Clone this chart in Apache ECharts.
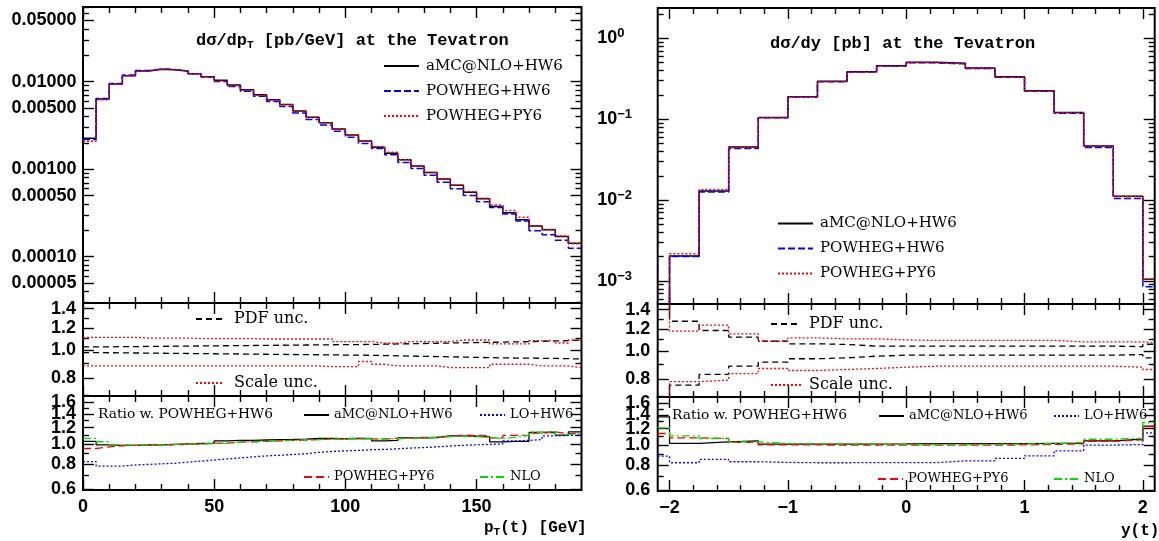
<!DOCTYPE html>
<html><head><meta charset="utf-8">
<script src="https://cdn.jsdelivr.net/npm/echarts@6/dist/echarts.min.js"></script>
<style>html,body{margin:0;padding:0;background:#fff}#c{width:1159px;height:541px}</style>
</head><body><div id="c"></div><script>
// ---------------- DATA ----------------
const ptEdges = [0,5,10,15,20,25,30,35,40,45,50,55,60,65,70,75,80,85,90,95,100,105,110,115,120,125,130,135,140,145,150,155,160,165,170,175,180,185,190];
const ptAmc = [2.26e-3,6.35e-3,9.41e-3,1.171e-2,1.325e-2,1.385e-2,1.371e-2,1.325e-2,1.234e-2,1.14e-2,1.037e-2,9.17e-3,8.1e-3,7.11e-3,6.23e-3,5.49e-3,4.63e-3,3.93e-3,3.40e-3,2.88e-3,2.46e-3,2.10e-3,1.78e-3,1.52e-3,1.28e-3,1.09e-3,9.15e-4,7.75e-4,6.56e-4,5.46e-4,4.61e-4,3.74e-4,3.17e-4,2.64e-4,2.25e-4,2.03e-4,1.70e-4,1.43e-4];
const ptPowHw = [2.19e-3,6.41e-3,9.55e-3,1.189e-2,1.338e-2,1.399e-2,1.378e-2,1.325e-2,1.228e-2,1.129e-2,1.002e-2,8.82e-3,7.79e-3,6.80e-3,5.93e-3,5.22e-3,4.39e-3,3.70e-3,3.20e-3,2.72e-3,2.31e-3,1.97e-3,1.72e-3,1.46e-3,1.195e-3,1.018e-3,8.51e-4,7.08e-4,5.99e-4,5.01e-4,4.26e-4,3.65e-4,3.08e-4,2.56e-4,1.98e-4,1.78e-4,1.54e-4,1.25e-4];
const ptPowPy = [2.08e-3,6.22e-3,9.36e-3,1.171e-2,1.318e-2,1.385e-2,1.364e-2,1.318e-2,1.228e-2,1.134e-2,1.012e-2,9.00e-3,7.98e-3,7.01e-3,6.17e-3,5.45e-3,4.61e-3,3.90e-3,3.39e-3,2.88e-3,2.46e-3,2.09e-3,1.82e-3,1.56e-3,1.279e-3,1.094e-3,9.19e-4,7.71e-4,6.61e-4,5.51e-4,4.66e-4,3.91e-4,3.38e-4,2.83e-4,2.24e-4,2.04e-4,1.73e-4,1.41e-4];
const ptPdfUp = [1.029,1.030,1.031,1.032,1.033,1.034,1.035,1.036,1.037,1.038,1.039,1.040,1.041,1.042,1.043,1.044,1.045,1.046,1.047,1.048,1.049,1.050,1.052,1.054,1.056,1.058,1.060,1.062,1.064,1.066,1.068,1.070,1.072,1.074,1.077,1.080,1.083,1.086];
const ptPdfDn = [0.983,0.982,0.981,0.980,0.979,0.978,0.977,0.976,0.975,0.974,0.973,0.972,0.971,0.970,0.969,0.968,0.967,0.966,0.965,0.964,0.963,0.962,0.960,0.958,0.956,0.954,0.952,0.950,0.948,0.946,0.944,0.942,0.941,0.940,0.939,0.938,0.936,0.934];
const ptScaleUp = [1.112,1.112,1.112,1.112,1.105,1.105,1.105,1.105,1.10,1.10,1.10,1.10,1.10,1.097,1.097,1.097,1.097,1.097,1.097,1.074,1.074,1.074,1.06,1.06,1.074,1.074,1.074,1.074,1.088,1.088,1.088,1.054,1.054,1.054,1.082,1.082,1.062,1.088];
const ptScaleDn = [0.883,0.883,0.883,0.883,0.883,0.883,0.883,0.883,0.883,0.883,0.883,0.883,0.883,0.883,0.883,0.883,0.883,0.883,0.878,0.878,0.878,0.915,0.895,0.883,0.883,0.883,0.883,0.871,0.871,0.871,0.871,0.895,0.895,0.895,0.883,0.883,0.883,0.871];
const ptRatioAmc = [1.03,0.99,0.985,0.985,0.99,0.99,0.995,1.0,1.005,1.01,1.035,1.04,1.04,1.045,1.05,1.052,1.055,1.063,1.063,1.06,1.063,1.065,1.035,1.04,1.071,1.071,1.075,1.095,1.095,1.09,1.083,1.024,1.03,1.03,1.137,1.14,1.103,1.145];
const ptRatioPy = [0.95,0.968,0.98,0.985,0.985,0.99,0.99,0.995,1.0,1.005,1.01,1.02,1.025,1.03,1.035,1.04,1.045,1.05,1.055,1.06,1.065,1.06,1.058,1.065,1.07,1.075,1.08,1.09,1.103,1.1,1.095,1.07,1.1,1.103,1.13,1.145,1.12,1.13];
const ptRatioLo = [0.82,0.78,0.78,0.79,0.795,0.80,0.805,0.815,0.825,0.835,0.845,0.855,0.865,0.875,0.88,0.889,0.895,0.91,0.92,0.925,0.93,0.937,0.94,0.947,0.955,0.96,0.968,0.977,0.985,0.99,0.995,1.0,1.035,1.04,1.05,1.095,1.1,1.103];
const ptRatioNlo = [1.065,1.025,0.99,0.985,0.99,0.99,0.995,1.0,1.0,1.005,1.01,1.02,1.025,1.03,1.035,1.04,1.045,1.05,1.055,1.06,1.06,1.06,1.055,1.06,1.065,1.07,1.075,1.085,1.09,1.085,1.08,1.06,1.08,1.1,1.14,1.145,1.11,1.125];

const yEdges = [-2.1,-2,-1.75,-1.5,-1.25,-1,-0.75,-0.5,-0.25,0,0.25,0.5,0.75,1,1.25,1.5,1.75,2,2.1];
const yAmc = [1e-4,2.04e-3,1.30e-2,4.55e-2,0.105,0.19,0.294,0.387,0.459,0.506,0.491,0.43,0.336,0.225,0.121,0.0468,0.0112,1.05e-3];
const yPowHw = [1e-4,2.01e-3,1.256e-2,4.35e-2,0.104,0.188,0.291,0.383,0.4535,0.4985,0.4837,0.4236,0.331,0.2212,0.1186,0.0447,0.0105,8.5e-4];
const yPowPy = [1e-4,2.18e-3,1.35e-2,4.47e-2,0.104,0.188,0.29,0.382,0.4526,0.4975,0.4827,0.4228,0.331,0.2223,0.120,0.0465,0.0111,1.05e-3];
const yPdfUp = [2.0,1.276,1.184,1.122,1.086,1.064,1.058,1.044,1.044,1.044,1.044,1.044,1.044,1.044,1.044,1.044,1.04,1.06];
const yPdfDn = [0.5,0.762,0.831,0.888,0.918,0.943,0.95,0.963,0.971,0.971,0.971,0.971,0.971,0.971,0.971,0.971,0.975,0.95];
const yScaleUp = [2.0,1.178,1.236,1.153,1.086,1.116,1.107,1.107,1.098,1.093,1.093,1.093,1.093,1.093,1.081,1.081,1.081,1.07];
const yScaleDn = [0.5,0.784,0.794,0.836,0.872,0.858,0.865,0.872,0.881,0.888,0.888,0.888,0.888,0.888,0.888,0.888,0.881,0.865];
const yRatioAmc = [1.37,1.017,1.035,1.047,1.01,1.01,1.01,1.01,1.012,1.015,1.015,1.015,1.015,1.017,1.02,1.047,1.067,1.234];
const yRatioPy = [1.137,1.083,1.075,1.028,1.0,1.0,0.998,0.998,0.998,0.998,0.998,0.998,1.0,1.005,1.012,1.04,1.06,1.23];
const yRatioLo = [0.882,0.819,0.85,0.828,0.822,0.819,0.819,0.82,0.82,0.82,0.837,0.837,0.86,0.885,0.936,0.998,1.005,1.145];
const yRatioNlo = [1.21,1.107,1.075,1.035,1.017,1.012,1.01,1.008,1.005,1.005,1.005,1.007,1.01,1.015,1.03,1.066,1.08,1.286];

// tick values and labels
const ptXTicks = [0,50,100,150];
const ptXLabels = ['0','50','100','150'];
const yXTicks = [-2,-1,0,1,2];
const yXLabels = ['\u22122','\u22121','0','1','2'];
const ptMainTicks = [0.05,0.01,0.005,0.001,0.0005,0.0001,0.00005];
const ptMainLabels = ['0.05000','0.01000','0.00500','0.00100','0.00050','0.00010','0.00005'];
const yMainTicks = [1,0.1,0.01,0.001];
const yMainExp = ['0','\u22121','\u22122','\u22123'];
const midTicks = [0.8,1.0,1.2,1.4];
const midLabels = ['0.8','1.0','1.2','1.4'];
const midMinor = [0.7,0.9,1.1,1.3];
const botTicks = [0.6,0.8,1.0,1.2,1.4,1.6];
const botLabels = ['0.6','0.8','1.0','1.2','1.4','1.6'];
const botMinor = [0.7,0.9,1.1,1.3,1.5];

// ---------------- LAYOUT ----------------
function logMinor(lo, hi, exclude) {
  const out = [];
  for (let e = -6; e <= 1; e++) for (let m = 1; m <= 9; m++) {
    const v = m * Math.pow(10, e);
    if (v > lo && v < hi && !exclude.some(t => Math.abs(t - v) / v < 1e-6)) out.push(v);
  }
  return out;
}
const grids = [
  {left:83, top:7, width:498.5, height:296},
  {left:83, top:303, width:498.5, height:93},
  {left:83, top:396, width:498.5, height:94},
  {left:657.7, top:8, width:497, height:296},
  {left:657.7, top:304, width:497, height:93},
  {left:657.7, top:397, width:497, height:94}
];
const colX = [
  {min:0, max:190, major:ptXTicks, labels:ptXLabels, minor:[10,20,30,40,60,70,80,90,110,120,130,140,160,170,180]},
  {min:-2.1, max:2.1, major:yXTicks, labels:yXLabels, minor:[-1.8,-1.6,-1.4,-1.2,-0.8,-0.6,-0.4,-0.2,0.2,0.4,0.6,0.8,1.2,1.4,1.6,1.8]}
];
const yCfg = [
  {min:2.96e-5, max:0.0713, major:ptMainTicks, labels:ptMainLabels, minor:logMinor(2.96e-5,0.0713,ptMainTicks), margin:6.5},
  {min:0.693, max:1.466, major:midTicks, labels:midLabels, minor:midMinor, margin:7},
  {min:0.5965, max:1.712, major:botTicks, labels:botLabels, minor:botMinor, margin:7},
  {min:5.2e-4, max:2.37, major:yMainTicks, labels:yMainExp, minor:logMinor(5.2e-4,2.37,yMainTicks), margin:60.5, sup:true},
  {min:0.693, max:1.466, major:midTicks, labels:midLabels, minor:midMinor, margin:7.5},
  {min:0.5965, max:1.712, major:botTicks, labels:botLabels, minor:botMinor, margin:7.5}
];
const tickFont = {fontFamily:'Liberation Sans', fontWeight:'bold', fontSize:18, color:'#000'};
const tickLine = {color:'#000', width:1.4};
function nearest(arr, v) { let b = 0; arr.forEach((a,i)=>{ if (Math.abs(a - v) < Math.abs(arr[b] - v)) b = i; }); return b; }
const NY = 7; // y axes per grid

const xAxes = [], yAxes = [];
grids.forEach((gr, g) => {
  const cx = colX[g < 3 ? 0 : 1];
  const showX = (g === 2 || g === 5);
  const bx = {type:'value', gridIndex:g, min:cx.min, max:cx.max, splitLine:{show:false}, axisLine:{show:false, onZero:false}};
  xAxes.push(Object.assign({}, bx, {position:'bottom',
    axisTick:{show:true, inside:true, length:11, customValues:cx.major, lineStyle:tickLine},
    axisLabel:Object.assign({show:showX, customValues:cx.major, margin:8, showMinLabel:true, showMaxLabel:true, hideOverlap:false,
      formatter:v => cx.labels[nearest(cx.major, v)]}, tickFont)}));
  xAxes.push(Object.assign({}, bx, {position:'bottom', axisTick:{show:true, inside:true, length:6, customValues:cx.minor, lineStyle:tickLine}, axisLabel:{show:false}}));
  xAxes.push(Object.assign({}, bx, {position:'top', axisTick:{show:true, inside:true, length:11, customValues:cx.major, lineStyle:tickLine}, axisLabel:{show:false}}));
  xAxes.push(Object.assign({}, bx, {position:'top', axisTick:{show:true, inside:true, length:6, customValues:cx.minor, lineStyle:tickLine}, axisLabel:{show:false}}));

  const c = yCfg[g];
  const lmin = Math.log10(c.min), lmax = Math.log10(c.max);
  const majL = c.major.map(Math.log10), minL = c.minor.map(Math.log10);
  // data axis (log scale)
  yAxes.push({type:'log', logBase:10, gridIndex:g, min:c.min, max:c.max, show:false, axisLine:{onZero:false}});
  const by = {type:'value', gridIndex:g, min:lmin, max:lmax, splitLine:{show:false}, axisLine:{show:false, onZero:false}};
  const noLab = {show:false};
  yAxes.push(Object.assign({}, by, {position:'left', axisTick:{show:true, inside:true, length:11, customValues:majL, lineStyle:tickLine}, axisLabel:noLab}));
  yAxes.push(Object.assign({}, by, {position:'left', axisTick:{show:true, inside:true, length:6, customValues:minL, lineStyle:tickLine}, axisLabel:noLab}));
  yAxes.push(Object.assign({}, by, {position:'right', axisTick:{show:true, inside:true, length:11, customValues:majL, lineStyle:tickLine}, axisLabel:noLab}));
  yAxes.push(Object.assign({}, by, {position:'right', axisTick:{show:true, inside:true, length:6, customValues:minL, lineStyle:tickLine}, axisLabel:noLab}));
  // label axes: alternate labels split over two axes so overlapping neighbours are both kept
  [0, 1].forEach(par => {
    const vals = majL.filter((v, i) => i % 2 === par);
    let lab;
    if (c.sup) {
      lab = {show:true, customValues:vals, margin:c.margin, align:'left', showMinLabel:true, showMaxLabel:true, hideOverlap:false,
        formatter:v => '{b|10}{s|' + c.labels[nearest(majL, v)] + '}',
        rich:{b:Object.assign({lineHeight:22}, tickFont), s:{fontFamily:'Liberation Sans', fontWeight:'bold', fontSize:13, color:'#000', verticalAlign:'top', lineHeight:12}}};
    } else {
      lab = Object.assign({show:true, customValues:vals, margin:c.margin, showMinLabel:true, showMaxLabel:true, hideOverlap:false,
        formatter:v => c.labels[nearest(majL, v)]}, tickFont);
    }
    yAxes.push(Object.assign({}, by, {position:'left', axisTick:{show:false}, axisLabel:lab}));
  });
});

function hist(edges, vals) {
  const pts = vals.map((v, i) => [edges[i], v]);
  pts.push([edges[edges.length - 1], vals[vals.length - 1]]);
  return pts;
}
const BLUE = '#0000ff', RED = '#ff0000', GREEN = '#00e000', BLACK = '#000000';
const DASH = [7,3], DOT = [2,2], PDFDASH = [6,4], RDASH = [8,4], DASHDOT = [8,3,2,3];
function line(name, g, edges, vals, color, dash, width) {
  return {type:'line', name:name, xAxisIndex:g*4, yAxisIndex:g*NY, data:hist(edges, vals), step:'end',
    symbol:'none', showSymbol:false, clip:true, silent:true, animation:false,
    lineStyle:{color:color, width:width, type:dash}, itemStyle:{color:color}};
}
const series = [];
[[0, ptEdges, ptAmc, ptPowHw, ptPowPy, ptPdfUp, ptPdfDn, ptScaleUp, ptScaleDn, ptRatioAmc, ptRatioPy, ptRatioLo, ptRatioNlo],
 [3, yEdges, yAmc, yPowHw, yPowPy, yPdfUp, yPdfDn, yScaleUp, yScaleDn, yRatioAmc, yRatioPy, yRatioLo, yRatioNlo]].forEach(s => {
  const [g, e, amc, phw, ppy, pu, pd, su, sd, ra, rp, rl, rn] = s;
  series.push(line('aMC@NLO+HW6', g, e, amc, BLACK, 'solid', 1.5));
  series.push(line('POWHEG+HW6', g, e, phw, BLUE, DASH, 1.5));
  series.push(line('POWHEG+PY6', g, e, ppy, RED, DOT, 1.5));
  series.push(line('PDF unc.', g+1, e, pu, BLACK, PDFDASH, 1.3));
  series.push(line('PDF unc.', g+1, e, pd, BLACK, PDFDASH, 1.3));
  series.push(line('Scale unc.', g+1, e, su, RED, DOT, 1.3));
  series.push(line('Scale unc.', g+1, e, sd, RED, DOT, 1.3));
  series.push(line('aMC@NLO+HW6', g+2, e, ra, BLACK, 'solid', 1.3));
  series.push(line('POWHEG+PY6 ', g+2, e, rp, RED, RDASH, 1.3));
  series.push(line('LO+HW6', g+2, e, rl, BLUE, DOT, 1.3));
  series.push(line('NLO', g+2, e, rn, GREEN, DASHDOT, 1.3));
});

function lg(left, top, names, iw, fs, pad) {
  return {left:left, top:top, orient:'vertical', data:names, itemWidth:iw, itemHeight:20, itemGap:9, padding:0,
    selectedMode:false, formatter:n => n.trim(),
    itemStyle:{opacity:0, borderWidth:0},
    textStyle:{fontFamily:'DejaVu Serif', fontSize:fs, color:'#000', padding:[0,0,0,pad || 0]}};
}
const mainNames = ['aMC@NLO+HW6','POWHEG+HW6','POWHEG+PY6'];
const legends = [
  lg(383, 58, mainNames, 35, 15, 2),
  lg(777, 215.5, mainNames, 35, 15, 2),
  lg(195, 311, ['PDF unc.'], 26, 16, 7), lg(195, 375, ['Scale unc.'], 26, 16, 7),
  lg(770, 316, ['PDF unc.'], 30, 16, 3), lg(770, 377, ['Scale unc.'], 30, 16, 3),
  lg(303, 407, ['aMC@NLO+HW6'], 25, 13, 0), lg(479, 407, ['LO+HW6'], 25, 13, 0),
  lg(303, 469, ['POWHEG+PY6 '], 25, 13, 0), lg(479, 469, ['NLO'], 25, 13, 0),
  lg(878, 408, ['aMC@NLO+HW6'], 25, 13, 0), lg(1053, 408, ['LO+HW6'], 25, 13, 0),
  lg(877, 471, ['POWHEG+PY6 '], 25, 13, 0), lg(1053, 471, ['NLO'], 25, 13, 0)
];

const mono = {fontFamily:'Liberation Mono', fontWeight:'bold', fontSize:17, color:'#000', lineHeight:20};
const monoSub = {fontFamily:'Liberation Mono', fontWeight:'bold', fontSize:11, color:'#000', verticalAlign:'bottom', lineHeight:8};
const monoAx = {fontFamily:'Liberation Mono', fontWeight:'bold', fontSize:16, color:'#000', lineHeight:20};
const serifT = {fontFamily:'DejaVu Serif', fontWeight:'normal', fontSize:13.8, color:'#000', lineHeight:20};
const titles = [
  {text:'{a|d\u03c3/dp}{s|T}{a| [pb/GeV] at the Tevatron}', left:196, top:31, padding:0, textStyle:{rich:{a:mono, s:monoSub}}},
  {text:'{a|d\u03c3/dy [pb] at the Tevatron}', left:770, top:34, padding:0, textStyle:{rich:{a:mono}}},
  {text:'{a|Ratio w. POWHEG+HW6}', left:98, top:404, padding:0, textStyle:{fontWeight:'normal', rich:{a:serifT}}},
  {text:'{a|Ratio w. POWHEG+HW6}', left:672, top:405, padding:0, textStyle:{fontWeight:'normal', rich:{a:serifT}}},
  {text:'{a|p}{s|T}{a|(t) [GeV]}', left:484, top:518, padding:0, textStyle:{rich:{a:monoAx, s:monoSub}}},
  {text:'{a|y(t)}', left:1121, top:521, padding:0, textStyle:{rich:{a:monoAx}}}
];

const chart = echarts.init(document.getElementById('c'), null, {renderer:'canvas'});
chart.setOption({
  animation:false,
  backgroundColor:'#fff',
  title:titles,
  legend:legends,
  grid:grids.map(g => Object.assign({show:true, borderColor:'#000', borderWidth:2, backgroundColor:'transparent', containLabel:false, outerBoundsMode:'none'}, g)),
  xAxis:xAxes,
  yAxis:yAxes,
  series:series
});
</script></body></html>
